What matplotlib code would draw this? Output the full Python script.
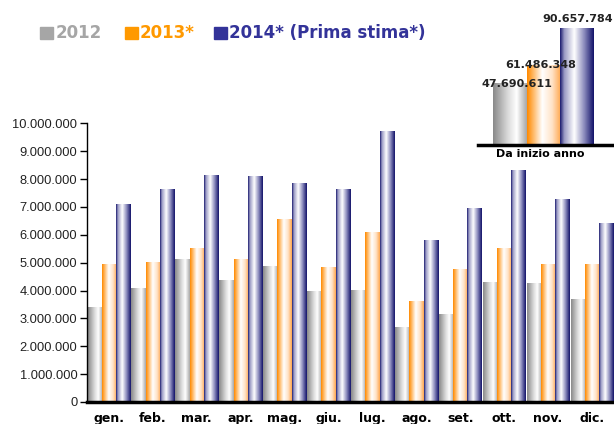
import numpy as np
import matplotlib
matplotlib.use("Agg")
import matplotlib.pyplot as plt
from matplotlib.colors import LinearSegmentedColormap
from matplotlib.patches import Rectangle

months = ["gen.", "feb.", "mar.", "apr.", "mag.", "giu.", "lug.", "ago.", "set.", "ott.", "nov.", "dic."]
v2012 = [3.39, 4.07, 5.11, 4.36, 4.86, 3.95, 3.99, 2.67, 3.14, 4.28, 4.25, 3.68]
v2013 = [4.93, 5.00, 5.50, 5.11, 6.55, 4.82, 6.08, 3.60, 4.75, 5.50, 4.93, 4.93]
v2014 = [7.10, 7.61, 8.11, 8.08, 7.83, 7.61, 9.69, 5.79, 6.93, 8.30, 7.25, 6.39]
ytd_values = [47690611, 61486348, 90657784]
ytd_labels = ["47.690.611", "61.486.348", "90.657.784"]
series_names = ["2012", "2013*", "2014* (Prima stima*)"]
yticks = [0, 1, 2, 3, 4, 5, 6, 7, 8, 9, 10]
ytick_labels = ["0", "1.000.000", "2.000.000", "3.000.000", "4.000.000", "5.000.000",
                "6.000.000", "7.000.000", "8.000.000", "9.000.000", "10.000.000"]

legend_colors = ["#a6a6a6", "#ff9900", "#333399"]
cmaps = [
    LinearSegmentedColormap.from_list("g", [(0, "#8a8a8a"), (0.45, "#dcdcdc"), (0.7, "#ffffff"), (1.0, "#a8a8a8")]),
    LinearSegmentedColormap.from_list("o", [(0, "#ff8a00"), (0.45, "#ffffff"), (0.75, "#ffe2c6"), (1.0, "#ffa850")]),
    LinearSegmentedColormap.from_list("b", [(0, "#1c1c70"), (0.12, "#9a9ac4"), (0.42, "#ffffff"), (0.72, "#8a8abc"), (1.0, "#14146a")]),
]
grad = np.linspace(0, 1, 64).reshape(1, -1)

fig = plt.figure(figsize=(6.14, 4.24), dpi=100)
ax = fig.add_axes([87/614, 1-402/424, 527/614, (402-123.3)/424])

x = np.arange(len(months))
w = 0.325
for i, vals in enumerate([v2012, v2013, v2014]):
    bars = ax.bar(x + (i-1)*w, vals, width=w, color="none", edgecolor="none", zorder=2)
    for b in bars:
        ax.imshow(grad, extent=[b.get_x(), b.get_x()+b.get_width(), 0, b.get_height()],
                  aspect="auto", cmap=cmaps[i], zorder=2, interpolation="bilinear")

ax.set_xlim(-0.5, 11.5)
ax.set_ylim(0, 10)
ax.set_yticks(yticks)
ax.set_yticklabels(ytick_labels, fontsize=9.3, family="Liberation Sans", color="#222222")
ax.set_xticks(x)
ax.set_xticklabels(months, fontsize=9, fontweight="bold", family="DejaVu Sans")
ax.tick_params(axis="x", length=0, pad=7)
ax.tick_params(axis="y", length=5, width=1, direction="out", pad=2)
for s in ["top", "right"]:
    ax.spines[s].set_visible(False)
ax.spines["left"].set_linewidth(1.0)
ax.spines["bottom"].set_linewidth(2.5)
ax.spines["bottom"].set_zorder(5)

# inset: year to date
ax2 = fig.add_axes([478/614, 1-145/424, 134/614, 117/424])
xi = np.arange(3)
bars = ax2.bar(xi, ytd_values, width=1.0, color="none", edgecolor="none")
for i, b in enumerate(bars):
    ax2.imshow(grad, extent=[b.get_x(), b.get_x()+b.get_width(), 0, b.get_height()],
               aspect="auto", cmap=cmaps[i], zorder=2, interpolation="bilinear")
ax2.set_xlim(-0.945, 3.03)
ax2.set_ylim(0, ytd_values[2])
for s in ["top", "right", "left"]:
    ax2.spines[s].set_visible(False)
ax2.spines["bottom"].set_linewidth(2.5)
ax2.set_yticks([])
ax2.set_xticks([0.9])
ax2.set_xticklabels(["Da inizio anno"], fontsize=8, fontweight="bold", family="DejaVu Sans")
ax2.tick_params(axis="x", length=0, pad=3)
offs_x = [0.2, -0.09, 0.0]
offs_y = [-2.5, -2.0, 4.5]
for i in range(3):
    ax2.annotate(ytd_labels[i], (xi[i] + offs_x[i], ytd_values[i]), xytext=(0, offs_y[i]),
                 textcoords="offset points", ha="center", va="baseline",
                 fontsize=8, fontweight="bold", family="DejaVu Sans", color="#222222",
                 annotation_clip=False, zorder=4)

# legend
sq_x = [40, 125, 214]
tx_x = [56, 140, 229]
for i in range(3):
    fig.patches.append(Rectangle((sq_x[i]/614, 1-39/424), 13/614, 12/424,
                                 transform=fig.transFigure, color=legend_colors[i]))
    fig.text(tx_x[i]/614, 1-33.5/424, series_names[i], color=legend_colors[i],
             fontsize=12, fontweight="bold", family="DejaVu Sans", va="center", ha="left")

fig.savefig("out.png", dpi=100)
